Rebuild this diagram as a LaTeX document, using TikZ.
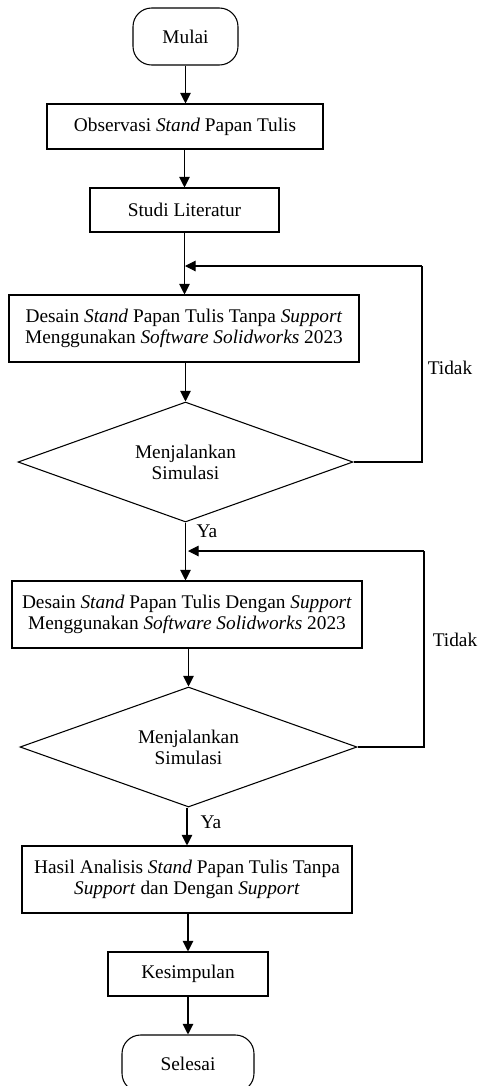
\documentclass[tikz,border=0pt]{standalone}
\usepackage{fontspec}
\setmainfont{Liberation Serif}
\usetikzlibrary{shapes.geometric,arrows.meta}
\begin{document}
\begin{tikzpicture}[x=0.75pt,y=-0.75pt,
  every node/.style={font=\fontsize{14.5}{15.8}\selectfont},
  base/.style={draw,line width=0.8pt,inner sep=0pt,align=center},
  proc/.style={base,rectangle},
  term/.style={base,rectangle,rounded corners=14pt},
  dec/.style={base,diamond,shape aspect=2.8},
  arr/.style={line width=0.8pt,-{Triangle[length=8pt,width=8pt]}},
  ln/.style={line width=0.8pt}]
\useasboundingbox (0,0) rectangle (480,1086);
\node[term,minimum width=105*0.75pt,minimum height=57*0.75pt] (mulai) at (185.5,36.5) {Mulai};
\node[proc,minimum width=276*0.75pt,minimum height=45*0.75pt] (obs) at (185,126.5) {Observasi \textit{Stand} Papan Tulis};
\node[proc,minimum width=189*0.75pt,minimum height=44*0.75pt] (studi) at (184.5,210) {Studi Literatur};
\node[proc,minimum width=350*0.75pt,minimum height=67*0.75pt] (d1) at (184,328.5) {Desain \textit{Stand} Papan Tulis Tanpa \textit{Support}\\Menggunakan \textit{Software Solidworks} 2023};
\node[dec,minimum width=335*0.75pt,minimum height=120*0.75pt] (s1) at (185.5,462) {Menjalankan\\Simulasi};
\node[proc,minimum width=350*0.75pt,minimum height=67*0.75pt] (d2) at (187,614.5) {Desain \textit{Stand} Papan Tulis Dengan \textit{Support}\\Menggunakan \textit{Software Solidworks} 2023};
\node[dec,minimum width=337*0.75pt,minimum height=120*0.75pt] (s2) at (188.5,747) {Menjalankan\\Simulasi};
\node[proc,minimum width=330*0.75pt,minimum height=67*0.75pt] (hasil) at (187,879.5) {Hasil Analisis \textit{Stand} Papan Tulis Tanpa\\\textit{Support} dan Dengan \textit{Support}};
\node[proc,minimum width=160*0.75pt,minimum height=44*0.75pt] (kes) at (188,974) {Kesimpulan};
\node[term,minimum width=132*0.75pt,minimum height=57*0.75pt] (sel) at (188,1063.5) {Selesai};
\node (tidak1) at (450,368) {Tidak};
\node (tidak2) at (455,640) {Tidak};
\node[anchor=west] (ya1) at (192,531) {Ya};
\node[anchor=west] (ya2) at (196,822) {Ya};
\coordinate (j1) at (185,266);
\coordinate (r1) at (422,266);
\coordinate (j2) at (188,551);
\coordinate (r2) at (424,551);
\draw[arr] (mulai.south) -- (mulai.south |- obs.north);
\draw[arr] (obs.south -| studi.north) -- (studi.north);
\draw[arr] (studi.south) -- (studi.south |- d1.north);
\draw[arr] (d1.south -| s1.north) -- (s1.north);
\draw[ln] (s1.east) -- (s1.east -| r1) -- (r1);
\draw[arr] (r1) -- (j1);
\draw[arr] (s1.south) -- (s1.south |- d2.north);
\draw[arr] (d2.south -| s2.north) -- (s2.north);
\draw[ln] (s2.east) -- (s2.east -| r2) -- (r2);
\draw[arr] (r2) -- (j2);
\draw[arr] (s2.south -| hasil.north) -- (hasil.north);
\draw[arr] (hasil.south -| kes.north) -- (kes.north);
\draw[arr] (kes.south -| sel.north) -- (sel.north);
\end{tikzpicture}
\end{document}
